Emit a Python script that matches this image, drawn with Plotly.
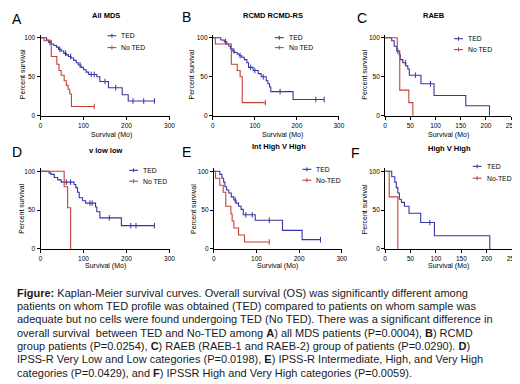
import plotly.graph_objects as go

W, H = 520, 384
BLUE = "#3535A5"
RED = "#C2413B"
FONT = "Arial, Liberation Sans, sans-serif"

# ---------------- data (months, percent survival) ----------------
A_TED_T = [0, 14, 19, 25, 31, 37, 42, 48, 54, 60, 65, 71, 77, 83, 88, 94, 100, 106, 112, 131, 138, 158, 190, 204]
A_TED_S = [100, 97, 94, 92, 90, 88, 85, 83, 80, 78, 76, 74, 71, 68, 65, 62, 59, 56, 53, 50, 44, 36, 27, 19]
A_TED_END = 265
A_TED_CENS = [22, 45, 58, 70, 92, 118, 125, 150, 175, 215, 240, 265]
A_NT_T = [0, 8, 25, 38, 43, 48, 55, 60, 64, 68, 72]
A_NT_S = [100, 96, 76, 66, 58, 52, 45, 39, 34, 28, 12]
A_NT_END = 125
A_NT_CENS = [125]

B_TED_T = [0, 19, 27, 33, 38, 42, 46, 52, 58, 63, 69, 75, 81, 85, 96, 108, 115, 127, 131, 135, 138, 191]
B_TED_S = [100, 97, 95, 92, 89, 86, 83, 81, 79, 77, 75, 72, 68, 62, 58, 54, 50, 45, 41, 37, 31, 21]
B_TED_END = 265
B_TED_CENS = [30, 50, 65, 90, 100, 120, 160, 245, 265]
B_NT_T = [0, 6, 44, 58, 65, 70]
B_NT_S = [100, 92, 66, 58, 50, 17]
B_NT_END = 125
B_NT_CENS = [125]

C_TED_T = [0, 13, 18, 23, 28, 30, 35, 41, 45, 48, 71, 97, 160, 207]
C_TED_S = [100, 96, 89, 83, 78, 72, 68, 64, 60, 52, 41, 26, 13, 0]
C_TED_END = 207
C_TED_CENS = [25, 40, 60, 90]
C_NT_T = [0, 24, 29, 47, 55]
C_NT_S = [100, 83, 33, 17, 0]
C_NT_END = 55
C_NT_CENS = []

D_TED_T = [0, 20, 24, 32, 40, 48, 78, 82, 86, 90, 98, 105, 128, 131, 138, 188]
D_TED_S = [100, 98, 96, 92, 89, 86, 83, 79, 73, 66, 62, 59, 54, 48, 40, 30]
D_TED_END = 265
D_TED_CENS = [60, 70, 115, 120, 160, 210, 222, 265]
D_NT_T = [0, 55, 63, 70]
D_NT_S = [100, 80, 53, 0]
D_NT_END = 70
D_NT_CENS = []

E_TED_T = [0, 14, 19, 23, 26, 30, 35, 41, 47, 52, 58, 64, 69, 97, 161, 207]
E_TED_S = [100, 96, 91, 86, 80, 76, 72, 67, 63, 59, 55, 51, 44, 37, 24, 12]
E_TED_END = 250
E_TED_CENS = [50, 75, 90, 130, 250]
E_NT_T = [0, 4, 14, 22, 28, 40, 43, 47, 58, 72]
E_NT_S = [100, 91, 82, 73, 55, 45, 36, 27, 18, 9]
E_NT_END = 130
E_NT_CENS = [130]

F_TED_T = [0, 13, 19, 22, 25, 28, 32, 38, 47, 70, 97, 206]
F_TED_S = [100, 93, 86, 79, 72, 64, 60, 55, 46, 34, 17, 0]
F_TED_END = 206
F_TED_CENS = [88]
F_NT_T = [0, 8, 25]
F_NT_S = [100, 67, 0]
F_NT_END = 25
F_NT_CENS = []

TITLES = ["All MDS", "RCMD RCMD-RS", "RAEB", "v low low", "Int High V High", "High V High"]
LETTERS = ["A", "B", "C", "D", "E", "F"]
NT_NAMES = ["No TED", "No TED", "No TED", "No TED", "No-TED", "No-TED"]
X_MAX = [300, 300, 250, 300, 300, 250]
X_TICKS = [[0, 100, 200, 300], [0, 100, 200, 300], [0, 50, 100, 150, 200, 250],
           [0, 100, 200, 300], [0, 100, 200, 300], [0, 50, 100, 150, 200, 250]]
Y_TICKS = [0, 50, 100]

CAPTION = [
    "<b>Figure:</b> Kaplan-Meier survival curves. Overall survival (OS) was significantly different among",
    "patients on whom TED profile was obtained (TED) compared to patients on whom sample was",
    "adequate but no cells were found undergoing TED (No TED). There was a significant difference in",
    "overall survival  between TED and No-TED among <b>A</b>) all MDS patients (P=0.0004), <b>B</b>) RCMD",
    "group patients (P=0.0254), <b>C</b>) RAEB (RAEB-1 and RAEB-2) group of patients (P=0.0290). <b>D</b>)",
    "IPSS-R Very Low and Low categories (P=0.0198), <b>E</b>) IPSS-R Intermediate, High, and Very High",
    "categories (P=0.0429), and <b>F</b>) IPSSR High and Very High categories (P=0.0059).",
]

PANELS = [
    (A_TED_T, A_TED_S, A_TED_END, A_TED_CENS, A_NT_T, A_NT_S, A_NT_END, A_NT_CENS),
    (B_TED_T, B_TED_S, B_TED_END, B_TED_CENS, B_NT_T, B_NT_S, B_NT_END, B_NT_CENS),
    (C_TED_T, C_TED_S, C_TED_END, C_TED_CENS, C_NT_T, C_NT_S, C_NT_END, C_NT_CENS),
    (D_TED_T, D_TED_S, D_TED_END, D_TED_CENS, D_NT_T, D_NT_S, D_NT_END, D_NT_CENS),
    (E_TED_T, E_TED_S, E_TED_END, E_TED_CENS, E_NT_T, E_NT_S, E_NT_END, E_NT_CENS),
    (F_TED_T, F_TED_S, F_TED_END, F_TED_CENS, F_NT_T, F_NT_S, F_NT_END, F_NT_CENS),
]

# ---------------- layout geometry (pixels) ----------------
YMAX = 104
# (x of month 0, x of month max, y of 0 %, y of 100 %)
GEOM = [
    (31, 162, 108, 29),
    (206, 334, 108, 29),
    (381, 509, 108, 29),
    (31, 162, 242.5, 164),
    (207, 337, 242.5, 164),
    (381, 510, 242.5, 164),
]
TITLE_POS = [(98, 6.5), (267, 7), (431, 7), (98, 143), (273, 139), (446, 141)]
LETTER_POS = [(7, 10), (179, 8), (358, 9), (7, 144), (179, 144), (351, 146)]
YTITLE_POS = [(12, 66), (184, 66), (360, 66), (12, 202), (187, 202), (360, 202)]
XTITLE_POS = [(103, 127), (277, 127), (445, 127), (97, 260), (272, 260), (445, 260)]
# legend: (line x0, line x1, text x, y TED, y No TED)
LEG_POS = [(99, 108, 111, 27, 39), (269, 278, 281, 29, 39), (451, 460, 463, 30, 41),
           (121, 130, 133, 163, 174), (297, 306, 309, 162, 173), (470, 479, 482, 159, 171)]


def px(x):
    return x / W


def py(y):
    return 1 - y / H


def level_at(T, S, t):
    v = S[0]
    for ti, si in zip(T, S):
        if ti <= t:
            v = si
    return v


fig = go.Figure()
annotations = []
shapes = []
layout_axes = {}

for i, (tT, tS, tE, tC, nT, nS, nE, nC) in enumerate(PANELS):
    k = i + 1
    xa = "x" if k == 1 else f"x{k}"
    ya = "y" if k == 1 else f"y{k}"
    x0, x1, y0, y100 = GEOM[i]
    ytop = y0 - (y0 - y100) * YMAX / 100
    layout_axes["xaxis" if k == 1 else f"xaxis{k}"] = dict(
        domain=[px(x0), px(x1)], anchor=ya, range=[0, X_MAX[i]],
        tickvals=X_TICKS[i], showgrid=False, zeroline=False,
        showline=True, linecolor="black", linewidth=1,
        ticks="outside", ticklen=3, tickwidth=1, tickcolor="black",
        tickfont=dict(size=6.5, family=FONT, color="black"), fixedrange=True)
    layout_axes["yaxis" if k == 1 else f"yaxis{k}"] = dict(
        domain=[py(y0), py(ytop)], anchor=xa, range=[0, YMAX],
        tickvals=Y_TICKS, showgrid=False, zeroline=False,
        showline=True, linecolor="black", linewidth=1,
        ticks="outside", ticklen=3, tickwidth=1, tickcolor="black",
        tickfont=dict(size=6.5, family=FONT, color="black"), fixedrange=True)

    for T, S, E, C, col in ((tT, tS, tE, tC, BLUE), (nT, nS, nE, nC, RED)):
        fig.add_trace(go.Scatter(
            x=T + [E], y=S + [S[-1]], mode="lines", line=dict(color=col, width=1.1, shape="hv"),
            xaxis=xa, yaxis=ya, showlegend=False, cliponaxis=False, hoverinfo="skip"))
        if C:
            fig.add_trace(go.Scatter(
                x=C, y=[level_at(T, S, c) for c in C], mode="markers",
                marker=dict(symbol="line-ns", size=4, line=dict(color=col, width=1)),
                xaxis=xa, yaxis=ya, showlegend=False, cliponaxis=False, hoverinfo="skip"))

    # titles, letters, axis titles
    tx, ty = TITLE_POS[i]
    annotations.append(dict(text=f"<b>{TITLES[i]}</b>", x=px(tx), y=py(ty), xref="paper", yref="paper",
                            showarrow=False, xanchor="center", yanchor="middle",
                            font=dict(size=7.5, family=FONT, color="black")))
    lx, ly = LETTER_POS[i]
    annotations.append(dict(text=LETTERS[i], x=px(lx), y=py(ly), xref="paper", yref="paper",
                            showarrow=False, xanchor="center", yanchor="middle",
                            font=dict(size=14, family=FONT, color="black")))
    yx, yy = YTITLE_POS[i]
    annotations.append(dict(text="Percent survival", x=px(yx), y=py(yy), xref="paper", yref="paper",
                            showarrow=False, xanchor="center", yanchor="middle", textangle=-90,
                            font=dict(size=7, family=FONT, color="black")))
    xx, xy = XTITLE_POS[i]
    annotations.append(dict(text="Survival (Mo)", x=px(xx), y=py(xy), xref="paper", yref="paper",
                            showarrow=False, xanchor="center", yanchor="middle",
                            font=dict(size=7, family=FONT, color="black")))
    # legend
    l0, l1, ltx, lyt, lyn = LEG_POS[i]
    for name, col, yy_ in (("TED", BLUE, lyt), (NT_NAMES[i], RED, lyn)):
        shapes.append(dict(type="line", xref="paper", yref="paper", x0=px(l0), x1=px(l1),
                           y0=py(yy_), y1=py(yy_), line=dict(color=col, width=1.1)))
        mid = (l0 + l1) / 2
        shapes.append(dict(type="line", xref="paper", yref="paper", x0=px(mid), x1=px(mid),
                           y0=py(yy_ - 2), y1=py(yy_ + 2), line=dict(color=col, width=1)))
        annotations.append(dict(text=name, x=px(ltx), y=py(yy_), xref="paper", yref="paper",
                                showarrow=False, xanchor="left", yanchor="middle",
                                font=dict(size=6.8, family=FONT, color="black")))

CAP_Y = [286.7, 300, 313.5, 327, 340.5, 354, 367.5]
for line, yy in zip(CAPTION, CAP_Y):
    annotations.append(dict(text=line, x=px(5), y=py(yy), xref="paper", yref="paper",
                            showarrow=False, xanchor="left", yanchor="middle",
                            font=dict(size=11, family=FONT, color="#1a1a1a")))

fig.update_layout(
    width=W, height=H, autosize=False,
    margin=dict(l=0, r=0, t=0, b=0),
    paper_bgcolor="white", plot_bgcolor="white",
    showlegend=False, annotations=annotations, shapes=shapes,
    **layout_axes)

fig.write_html("out.html", config={"displayModeBar": False})
